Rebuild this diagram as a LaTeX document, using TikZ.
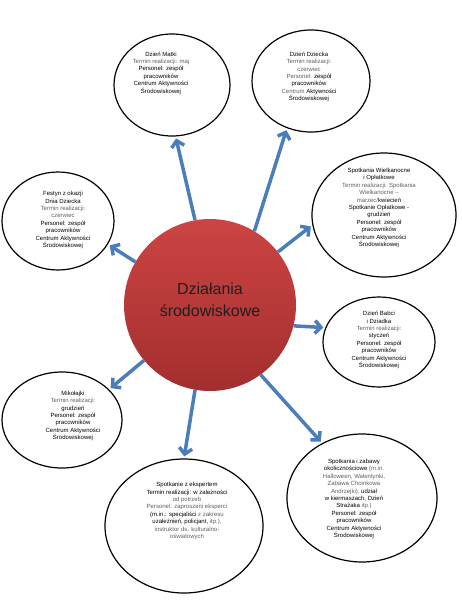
\documentclass[tikz,border=0pt]{standalone}
\usepackage{fontspec}
\setmainfont{Liberation Sans}
\usetikzlibrary{arrows.meta,shapes.geometric}
\definecolor{arrowblue}{HTML}{4A7EBB}
\definecolor{txtgray}{HTML}{5E5E5E}
\definecolor{txtdark}{HTML}{000000}
\definecolor{redtop}{HTML}{CD4444}
\definecolor{redbot}{HTML}{A32E2E}
\begin{document}
\begin{tikzpicture}[x=1pt,y=-1pt,
  bubble/.style={ellipse, draw=black, line width=1.2pt, inner sep=0pt},
  info/.style={align=center, font=\fontsize{6}{7.4}\selectfont, inner sep=0pt, text=txtdark},
  link/.style={draw=arrowblue, line width=3.5pt, -{Straight Barb[length=6pt,width=13pt]}, shorten >=2pt}
]
\useasboundingbox (0,0) rectangle (462,608);

% central circle
\node[circle, minimum size=172pt, inner sep=0pt, top color=redtop, bottom color=redbot] (hub) at (210,305) {};
\node[font=\fontsize{16}{21.5}\selectfont, align=center, text=black!88, inner sep=0pt] (hubtxt) at (210,300) {Działania\\środowiskowe};

% ellipses
\node[bubble, minimum width=116pt, minimum height=102pt] (e1) at (172,85) {};
\node[bubble, minimum width=118pt, minimum height=102pt] (e2) at (311,81) {};
\node[bubble, minimum width=144pt, minimum height=124pt] (e3) at (384,215) {};
\node[bubble, minimum width=112pt, minimum height=98pt] (e4) at (58,221) {};
\node[bubble, minimum width=112pt, minimum height=90pt] (e5) at (379,342) {};
\node[bubble, minimum width=120pt, minimum height=96pt] (e6) at (62,420) {};
\node[bubble, minimum width=158pt, minimum height=134pt] (e7) at (184,526) {};
\node[bubble, minimum width=150pt, minimum height=128pt] (e8) at (362,498) {};

% texts
\node[info] (t1) at (161,73) {Dzień Matki\\ \textcolor{txtgray}{Termin realizacji: maj}\\ Personel: zespół\\ pracowników\\ Centrum Aktywności\\ Środowiskowej};
\node[info] (t2) at (309,77) {Dzień Dziecka\\ \textcolor{txtgray}{Termin realizacji:}\\ \textcolor{txtgray}{czerwiec}\\ \textcolor{txtgray}{Personel:} zespół\\ pracowników\\ \textcolor{txtgray}{Centrum} Aktywności\\ Środowiskowej};
\node[info] (t3) at (379,208) {Spotkania Wielkanocne\\ i Opłatkowe\\ \textcolor{txtgray}{Termin realizacji: Spotkania}\\ \textcolor{txtgray}{Wielkanocne –}\\ \textcolor{txtgray}{marzec/}kwiecień\\ Spotkanie Opłatkowe -\\ grudzień\\ Personel: zespół\\ pracowników\\ Centrum Aktywności\\ Środowiskowej};
\node[info] (t4) at (63,220) {Festyn z okazji\\ Dnia Dziecka\\ \textcolor{txtgray}{Termin realizacji:}\\ \textcolor{txtgray}{czerwiec}\\ Personel: zespół\\ pracowników\\ Centrum Aktywności\\ Środowiskowej};
\node[info] (t5) at (379,340) {Dzień Babci\\ i Dziadka\\ \textcolor{txtgray}{Termin realizacji:}\\ styczeń\\ Personel: zespół\\ pracowników\\ Centrum Aktywności\\ Środowiskowej};
\node[info] (t6) at (73,416) {Mikołajki\\ \textcolor{txtgray}{Termin realizacji:}\\ grudzień\\ Personel: zespół\\ pracowników\\ Centrum Aktywności\\ Środowiskowej};
\node[info] (t7) at (187,511) {Spotkanie z ekspertem\\ Termin realizacji: w zależności\\ \textcolor{txtgray}{od potrzeb}\\ \textcolor{txtgray}{Personel: zaproszeni eksperci}\\ (m.in.: specjaliści \textcolor{txtgray}{z zakresu}\\ uzależnień, policjant, \textcolor{txtgray}{itp.),}\\ \textcolor{txtgray}{instruktor ds. kulturalno-}\\ \textcolor{txtgray}{oświatowych}};
\node[info] (t8) at (354,499) {Spotkania i zabawy\\ okolicznościowe \textcolor{txtgray}{(m.in.}\\ \textcolor{txtgray}{Halloween, Walentynki,}\\ \textcolor{txtgray}{Zabawa Choinkowa}\\ \textcolor{txtgray}{Andrzejki),} udział\\ w kiermaszach, Dzień\\ Strażaka \textcolor{txtgray}{itp.)}\\ Personel: zespół\\ pracowników\\ Centrum Aktywności\\ Środowiskowej};

% connectors
\draw[link] (hub.100) -- (e1.274);
\draw[link] (hub.59) -- (e2.243);
\draw[link] (hub.38) -- (e3.188);
\draw[link] (hub.150) -- (e4.335);
\draw[link] (hub.-14) -- (e5.165);
\draw[link] (hub.220) -- (e6.33);
\draw[link] (hub.260) -- (e7.90);
\draw[link] (hub.306) -- (e8.126);
\end{tikzpicture}
\end{document}
